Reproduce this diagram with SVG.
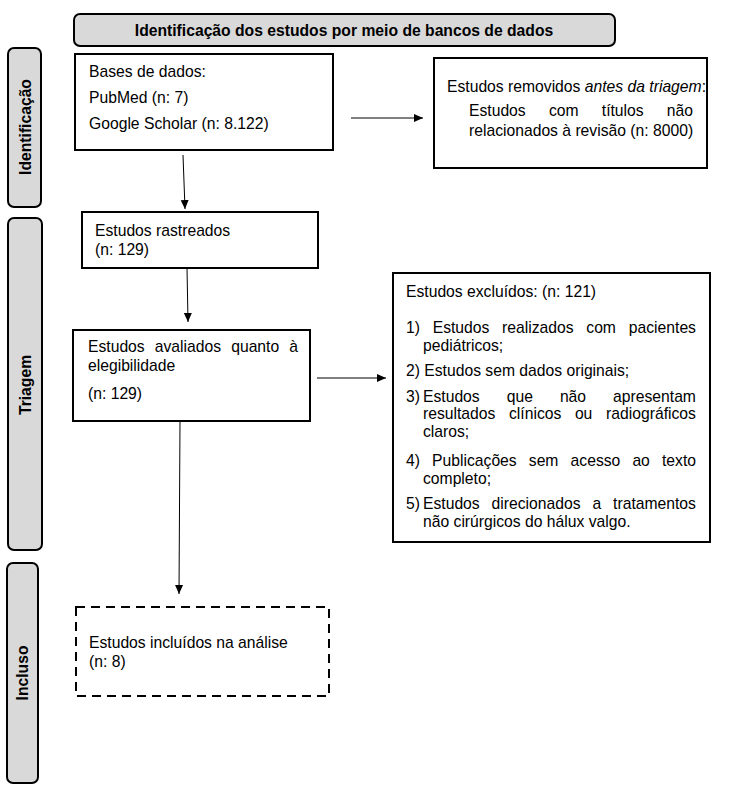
<svg xmlns="http://www.w3.org/2000/svg" width="744" height="792" viewBox="0 0 744 792">
<style>
text{font-family:"Liberation Sans",Arial,sans-serif;font-size:15.7px;fill:#000}
.b{font-weight:bold}
.bar{fill:#d9d9d9;stroke:#000;stroke-width:2}
.box{fill:#fff;stroke:#000;stroke-width:2}
.dash{fill:#fff;stroke:#000;stroke-width:2;stroke-dasharray:9 6}
.conn{stroke:#000;stroke-width:1;fill:none}
</style>
<defs>
<marker id="ah" markerUnits="userSpaceOnUse" markerWidth="10" markerHeight="10" viewBox="0 0 10 10" refX="9" refY="5" orient="auto">
<path d="M0,1 L9,5 L0,9 Z" fill="#000"/>
</marker>
</defs>
<rect width="744" height="792" fill="#fff"/>

<g id="header">
<rect class="bar" x="74" y="14" width="541" height="32" rx="6"/>
<text class="b" x="344" y="36" text-anchor="middle">Identificação dos estudos por meio de bancos de dados</text>
</g>

<g id="side-identificacao">
<rect class="bar" x="8" y="48" width="33" height="159" rx="6"/>
<text class="b" transform="translate(30.5,127) rotate(-90)" text-anchor="middle">Identificação</text>
</g>
<g id="side-triagem">
<rect class="bar" x="8" y="218" width="34" height="332" rx="6"/>
<text class="b" transform="translate(31,385) rotate(-90)" text-anchor="middle">Triagem</text>
</g>
<g id="side-incluso">
<rect class="bar" x="7" y="563" width="31" height="220" rx="6"/>
<text class="b" transform="translate(28,673) rotate(-90)" text-anchor="middle">Incluso</text>
</g>

<g id="bases">
<rect class="box" x="75" y="54" width="258" height="96"/>
<text x="89" y="77">Bases de dados:</text>
<text x="89" y="103">PubMed (n: 7)</text>
<text x="89" y="129">Google Scholar (n: 8.122)</text>
</g>

<g id="removidos">
<rect class="box" x="434" y="58" width="273" height="110"/>
<text x="447" y="92">Estudos removidos <tspan font-style="italic">antes da triagem</tspan>:</text>
<text y="116"><tspan x="469">Estudos</tspan> <tspan x="548.9">com</tspan> <tspan x="601.8">títulos</tspan> <tspan x="666.8">não</tspan></text>
<text x="469" y="136">relacionados à revisão (n: 8000)</text>
</g>

<g id="rastreados">
<rect class="box" x="82" y="212" width="236" height="56"/>
<text x="95" y="236">Estudos rastreados</text>
<text x="95" y="255">(n: 129)</text>
</g>

<g id="avaliados">
<rect class="box" x="73" y="330" width="237" height="91"/>
<text y="352"><tspan x="88">Estudos</tspan> <tspan x="154.8">avaliados</tspan> <tspan x="231.2">quanto</tspan> <tspan x="289.3">à</tspan></text>
<text x="88" y="371">elegibilidade</text>
<text x="88" y="399">(n: 129)</text>
</g>

<g id="excluidos">
<rect class="box" x="393" y="273" width="317" height="269"/>
<text x="406" y="297">Estudos excluídos: (n: 121)</text>
<text y="333"><tspan x="406">1)</tspan> <tspan x="432.7">Estudos</tspan> <tspan x="502.1">realizados</tspan> <tspan x="586.3">com</tspan> <tspan x="628.8">pacientes</tspan></text>
<text x="423" y="351">pediátricos;</text>
<text x="406" y="376">2) Estudos sem dados originais;</text>
<text y="402"><tspan x="406">3)</tspan> <tspan x="423">Estudos</tspan> <tspan x="506.7">que</tspan> <tspan x="559.9">não</tspan> <tspan x="613.1">apresentam</tspan></text>
<text y="419"><tspan x="423">resultados</tspan> <tspan x="509">clínicos</tspan> <tspan x="574.9">ou</tspan> <tspan x="606.1">radiográficos</tspan></text>
<text x="423" y="437">claros;</text>
<text y="466"><tspan x="406">4)</tspan> <tspan x="432.1">Publicações</tspan> <tspan x="528.8">sem</tspan> <tspan x="570.6">acesso</tspan> <tspan x="632.4">ao</tspan> <tspan x="662">texto</tspan></text>
<text x="423" y="484">completo;</text>
<text y="509"><tspan x="406">5)</tspan> <tspan x="423">Estudos</tspan> <tspan x="491.6">direcionados</tspan> <tspan x="592.5">a</tspan> <tspan x="613.1">tratamentos</tspan></text>
<text x="423" y="527">não cirúrgicos do hálux valgo.</text>
</g>

<g id="incluidos">
<rect class="dash" x="76" y="607" width="253" height="89"/>
<text x="89" y="648">Estudos incluídos na análise</text>
<text x="89" y="667">(n: 8)</text>
</g>

<g id="connectors">
<line class="conn" x1="183" y1="155" x2="185" y2="209" marker-end="url(#ah)"/>
<line class="conn" x1="187" y1="268" x2="188" y2="322" marker-end="url(#ah)"/>
<line class="conn" x1="180" y1="421" x2="179" y2="594" marker-end="url(#ah)"/>
<line class="conn" x1="351" y1="118" x2="423" y2="118" marker-end="url(#ah)"/>
<line class="conn" x1="317" y1="378" x2="386" y2="378" marker-end="url(#ah)"/>
</g>
</svg>
